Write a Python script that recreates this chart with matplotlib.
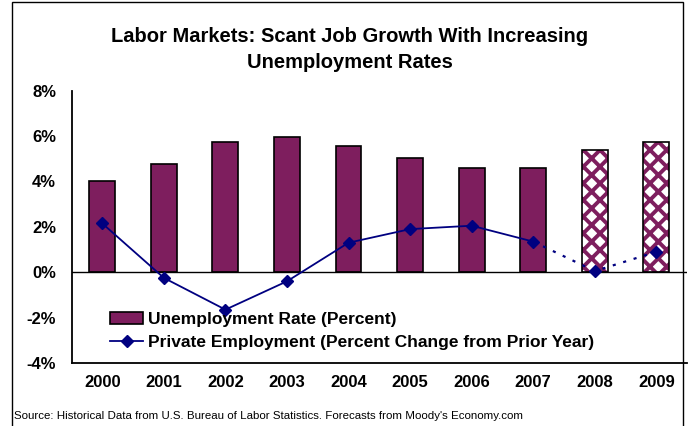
import matplotlib
matplotlib.use('Agg')
import matplotlib.pyplot as plt
import matplotlib.patches as mpatches
from matplotlib.lines import Line2D
from matplotlib.ticker import FuncFormatter
import numpy as np

plt.rcParams['font.family'] = ['Liberation Sans', 'DejaVu Sans']
plt.rcParams['hatch.linewidth'] = 2.8

years = ['2000', '2001', '2002', '2003', '2004', '2005', '2006', '2007', '2008', '2009']
unemployment = [4.0, 4.75, 5.75, 5.95, 5.55, 5.05, 4.6, 4.6, 5.4, 5.75]
private_emp = [2.15, -0.25, -1.65, -0.4, 1.3, 1.9, 2.05, 1.35, 0.05, 0.9]
n_actual = 8  # 2008 and 2009 are forecasts

plum = '#7E1E5E'
navy = '#000080'

fig = plt.figure(figsize=(6.89, 4.26), dpi=100)
ax = fig.add_axes([0.1038, 0.148, 0.8935, 0.639])

x = np.arange(len(years))
w = 0.42

# historical bars, solid fill
ax.bar(x[:n_actual], unemployment[:n_actual], width=w, color=plum,
       edgecolor='black', linewidth=1.2, zorder=2)
# forecast bars: white diamonds on plum, outline drawn separately
ax.bar(x[n_actual:], unemployment[n_actual:], width=w, facecolor='white',
       edgecolor=plum, hatch='xx', linewidth=0, zorder=2)
ax.bar(x[n_actual:], unemployment[n_actual:], width=w, fill=False,
       edgecolor='black', linewidth=1.2, zorder=3)

ax.axhline(0, color='black', linewidth=1.0, zorder=2.5)

# private employment: solid for history, dotted into forecast
ax.plot(x[:n_actual], private_emp[:n_actual], color=navy, linewidth=1.3,
        zorder=4)
ax.plot(x[n_actual - 1:], private_emp[n_actual - 1:], color=navy,
        linewidth=1.6, linestyle=(0, (1.4, 3.5)), zorder=4)
ax.plot(x, private_emp, linestyle='none', marker='D', markersize=6,
        color=navy, zorder=5)

ax.set_xlim(-0.5, 9.5)
ax.set_ylim(-4, 8)
ax.set_yticks(np.arange(-4, 9, 2))
ax.yaxis.set_major_formatter(FuncFormatter(lambda v, p: '%d%%' % v))
ax.set_xticks(x)
ax.set_xticklabels(years)
ax.tick_params(axis='both', length=0, labelsize=12)
ax.tick_params(axis='y', pad=11)
ax.tick_params(axis='x', pad=9)
for lab in ax.get_xticklabels() + ax.get_yticklabels():
    lab.set_fontweight('bold')

for s in ['top', 'right']:
    ax.spines[s].set_visible(False)
for s in ['left', 'bottom']:
    ax.spines[s].set_linewidth(1.3)

handles = [
    mpatches.Patch(facecolor=plum, edgecolor='black', linewidth=1.2),
    Line2D([], [], color=navy, linewidth=1.3, marker='D', markersize=6),
]
labels = ['Unemployment Rate (Percent)',
          'Private Employment (Percent Change from Prior Year)']
ax.legend(handles, labels, loc='center left', bbox_to_anchor=(0.063, 0.118),
          frameon=False, handlelength=1.9, handletextpad=0.3,
          labelspacing=0.45, borderpad=0, borderaxespad=0,
          prop={'weight': 'bold', 'size': 12.5})

fig.text(0.508, 0.883, 'Labor Markets: Scant Job Growth With Increasing\nUnemployment Rates',
         ha='center', va='center', fontsize=14.5, fontweight='bold',
         linespacing=1.45)

fig.text(14 / 689, 1 - 416 / 426,
         "Source: Historical Data from U.S. Bureau of Labor Statistics. Forecasts from Moody's Economy.com",
         ha='left', va='center', fontsize=8.25)

# outer chart border
fig.patches.append(mpatches.Rectangle((12 / 689, -0.01), 671 / 689, 1 - 2 / 426 + 0.01,
                                      transform=fig.transFigure, fill=False,
                                      edgecolor='black', linewidth=1.0))

fig.savefig('out.png', dpi=100)
